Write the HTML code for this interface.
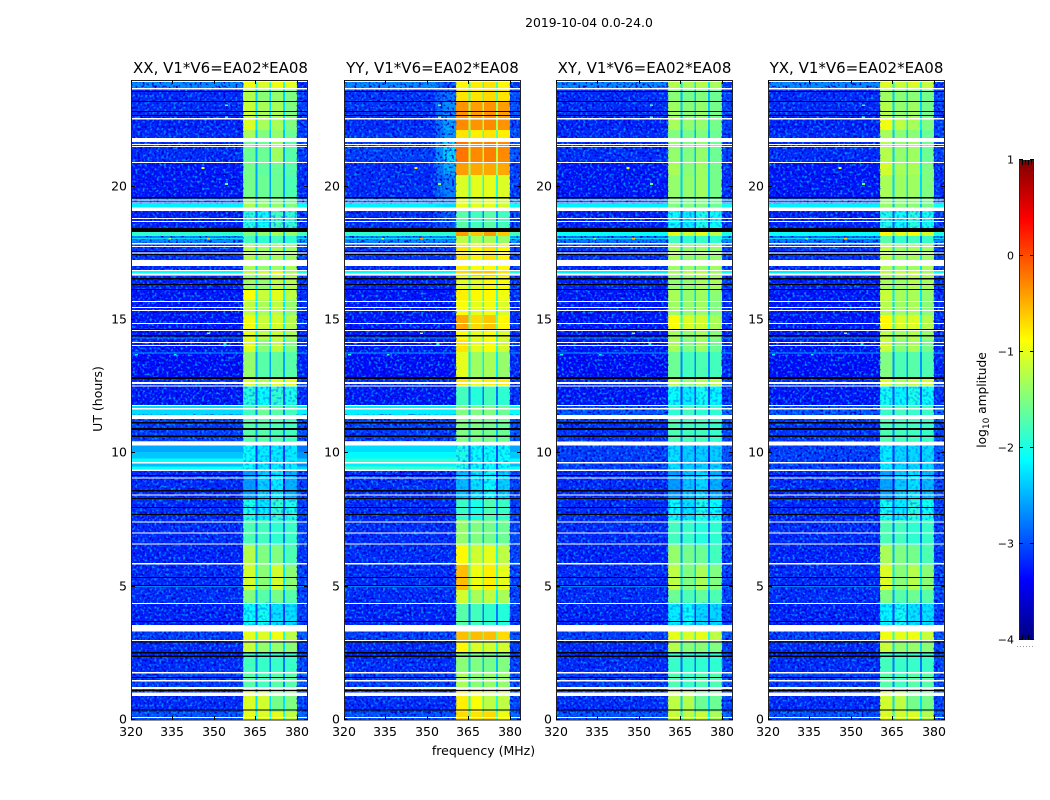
<!DOCTYPE html>
<html lang="en">
<head>
<meta charset="utf-8">
<title>2019-10-04 0.0-24.0</title>
<style>
html,body{margin:0;padding:0;background:#fff;}
svg{display:block;font-family:"DejaVu Sans","Liberation Sans",sans-serif;fill:#000;}
</style>
</head>
<body>
<svg id="chart" xmlns="http://www.w3.org/2000/svg" width="1050" height="800" viewBox="0 0 1050 800">
  <defs>
    <filter id="speckle-light" x="0" y="0" width="100%" height="100%" color-interpolation-filters="sRGB">
      <feTurbulence type="fractalNoise" baseFrequency="0.42" numOctaves="1" seed="7"/>
      <feColorMatrix type="matrix" values="0 0 0 0 0  0 0 0 0 0.55  0 0 0 0 1  5 0 0 0 -2.6"/>
    </filter>
    <filter id="speckle-dark" x="0" y="0" width="100%" height="100%" color-interpolation-filters="sRGB">
      <feTurbulence type="fractalNoise" baseFrequency="0.42" numOctaves="1" seed="23"/>
      <feColorMatrix type="matrix" values="0 0 0 0 0  0 0 0 0 0  0 0 0 0 0.8  5 0 0 0 -2.5"/>
    </filter>
    <filter id="speckle-band" x="0" y="0" width="100%" height="100%" color-interpolation-filters="sRGB">
      <feTurbulence type="fractalNoise" baseFrequency="0.38" numOctaves="1" seed="41"/>
      <feColorMatrix type="matrix" values="0 0 0 0 0  0 0 0 0 0.42  0 0 0 0 1  4 0 0 0 -1.9"/>
    </filter>
  </defs>
  <g id="panels"></g>
  <text x="589" y="27" font-size="12.4" text-anchor="middle">2019-10-04 0.0-24.0</text>
  <text x="220.500" y="73" font-size="15" text-anchor="middle">XX, V1*V6=EA02*EA08</text>
  <text x="432.500" y="73" font-size="15" text-anchor="middle">YY, V1*V6=EA02*EA08</text>
  <text x="644.500" y="73" font-size="15" text-anchor="middle">XY, V1*V6=EA02*EA08</text>
  <text x="856.500" y="73" font-size="15" text-anchor="middle">YX, V1*V6=EA02*EA08</text>
  <text x="0" y="0" font-size="12.5" text-anchor="middle" transform="translate(102,399) rotate(-90)">UT (hours)</text>
  <text x="483.500" y="755" font-size="12.5" text-anchor="middle">frequency (MHz)</text>
  <text x="0" y="0" font-size="12.2" text-anchor="middle" transform="translate(986,400) rotate(-90)">log<tspan font-size="9" dy="3">10</tspan><tspan dy="-3"> amplitude</tspan></text>
  <g id="colorbar"></g>
</svg>
<script>
// ---- data ----
const panelNames = ["xx", "yy", "xy", "yx"];
const xTickValues = [320, 335, 350, 365, 380];
const yTickValues = [0, 5, 10, 15, 20];
const colorbarTickValues = [1, 0, -1, -2, -3, -4];
const colorbarTickLabels = ["1", "0", "\u22121", "\u22122", "\u22123", "\u22124"];

// UT edges of the time segments (hours, top to bottom)
const segmentEdgesUT = [24.0,23.66,23.21,22.58,22.13,21.83,20.93,20.44,19.61,19.35,19.2,18.45,18.15,17.89,17.25,16.88,16.65,16.13,15.75,15.19,14.63,14.25,13.8,12.86,12.53,11.81,11.44,10.46,9.38,8.25,7.5,6.56,5.81,4.88,4.39,3.56,3.0,2.55,1.8,1.05,0.3,0];

// log10 amplitude per segment: [background, band 1, band 2, band 3, band 4]
const levelsXX = [
[-2.6,-0.95,-1.05,-0.95,-1.0],[-3.1,-1.25,-1.45,-1.4,-1.5],[-3.1,-1.15,-1.3,-1.3,-1.5],[-3.15,-1.05,-1.3,-1.3,-1.5],[-3.1,-1.3,-1.5,-1.4,-1.6],
[-3.1,-1.6,-1.6,-1.35,-1.7],[-3.2,-1.55,-1.65,-1.6,-1.7],[-3.2,-1.55,-1.6,-1.6,-1.75],[-2.8,-1.4,-1.5,-1.5,-1.6],[-2.2,-1.3,-1.4,-1.4,-1.5],
[-3.15,-1.95,-2.1,-1.8,-1.9],[-1.9,-1.5,-1.4,-1.3,-1.4],[-2.6,-1.8,-1.9,-1.8,-1.9],[-3.05,-1.25,-1.35,-1.3,-1.35],[-3.1,-1.3,-1.4,-1.35,-1.3],
[-2.1,-1.2,-1.1,-1.0,-1.3],[-3.15,-1.35,-1.4,-1.2,-1.25],[-3.2,-0.9,-1.15,-1.0,-1.2],[-3.2,-1.2,-1.3,-1.2,-1.4],[-3.2,-0.95,-1.15,-1.1,-1.25],[-3.2,-1.0,-1.2,-1.15,-1.3],[-3.2,-1.05,-1.45,-1.2,-1.5],
[-3.25,-1.4,-1.7,-1.65,-1.7],[-3.1,-1.05,-1.3,-1.0,-1.0],[-3.2,-1.95,-2.1,-1.9,-2.0],[-2.3,-1.8,-1.6,-1.7,-1.8],[-3.0,-1.7,-1.7,-1.75,-1.8],
[-2.4,-2.1,-2.2,-2.2,-2.2],[-3.1,-2.6,-2.35,-2.2,-2.5],[-3.1,-2.0,-2.2,-1.9,-2.0],[-3.1,-1.75,-1.8,-1.9,-1.85],[-3.15,-1.25,-1.5,-1.5,-1.75],
[-3.1,-1.1,-1.45,-1.1,-1.45],[-3.1,-1.5,-1.7,-1.55,-1.7],[-3.15,-2.1,-2.05,-2.25,-2.25],[-3.0,-1.0,-1.05,-0.95,-1.2],[-3.1,-1.15,-1.4,-1.4,-1.45],
[-3.1,-1.8,-1.85,-1.85,-1.85],[-3.0,-1.7,-1.8,-1.7,-1.7],[-3.1,-1.05,-1.1,-1.55,-1.5],[-2.9,-1.0,-1.05,-1.0,-1.2]];
const levelsYY = [
[-2.6,-0.85,-0.8,-0.75,-0.85],[-3.05,-0.75,-0.75,-0.7,-0.75],[-3.05,-0.35,-0.4,-0.35,-0.4],[-3.1,-0.3,-0.35,-0.3,-0.35],[-3.05,-0.75,-0.8,-0.75,-0.8],
[-3.0,-0.2,-0.3,-0.25,-0.3],[-3.1,-0.4,-0.45,-0.45,-0.45],[-3.1,-1.05,-1.0,-1.0,-1.05],[-2.7,-1.0,-1.1,-1.0,-1.1],[-2.2,-1.0,-1.0,-1.0,-1.1],
[-3.1,-1.7,-1.8,-1.7,-1.8],[-1.9,-0.4,-0.6,-0.4,-0.6],[-2.6,-1.2,-1.3,-1.3,-1.4],[-3.05,-0.75,-0.85,-0.75,-0.85],[-3.1,-0.8,-0.9,-0.85,-0.85],
[-2.1,-0.7,-0.6,-0.6,-0.75],[-3.15,-1.0,-1.0,-0.85,-0.9],[-3.2,-0.8,-0.85,-0.85,-0.95],[-3.2,-0.9,-1.0,-0.95,-1.05],[-3.2,-0.45,-0.7,-0.6,-0.85],[-3.2,-0.9,-1.0,-0.9,-1.05],[-3.2,-0.75,-1.0,-0.9,-1.1],
[-3.25,-1.0,-1.35,-1.3,-1.4],[-3.1,-0.75,-0.95,-0.8,-0.8],[-3.2,-1.8,-1.95,-1.8,-1.9],[-2.2,-1.5,-1.5,-1.5,-1.6],[-3.0,-1.5,-1.5,-1.55,-1.6],
[-2.15,-2.0,-2.1,-2.1,-2.1],[-3.1,-2.45,-2.25,-2.1,-2.35],[-3.1,-1.85,-2.0,-1.75,-1.85],[-3.1,-1.4,-1.5,-1.55,-1.6],[-3.1,-0.85,-1.1,-1.0,-1.2],
[-3.1,-0.55,-0.95,-0.8,-1.0],[-3.1,-1.1,-1.3,-1.2,-1.3],[-3.15,-1.7,-1.8,-1.9,-1.95],[-3.0,-0.55,-0.55,-0.55,-0.7],[-3.1,-0.85,-1.05,-1.1,-1.1],
[-3.1,-1.45,-1.5,-1.55,-1.5],[-3.0,-1.3,-1.45,-1.4,-1.4],[-3.1,-0.8,-0.9,-1.2,-1.2],[-2.9,-0.7,-0.75,-0.7,-0.95]];
const levelsXY = [
[-2.6,-1.25,-1.3,-1.25,-1.3],[-3.1,-1.45,-1.55,-1.5,-1.6],[-3.1,-1.35,-1.45,-1.4,-1.55],[-3.15,-1.3,-1.4,-1.4,-1.55],[-3.1,-1.5,-1.55,-1.5,-1.6],
[-3.1,-1.4,-1.5,-1.4,-1.6],[-3.2,-1.3,-1.45,-1.35,-1.55],[-3.2,-1.4,-1.4,-1.35,-1.55],[-2.8,-1.5,-1.55,-1.5,-1.6],[-2.2,-1.5,-1.5,-1.5,-1.6],
[-3.15,-2.1,-2.2,-2.0,-2.1],[-2.1,-1.0,-1.1,-1.0,-1.2],[-2.7,-1.8,-1.9,-1.85,-1.9],[-3.05,-1.3,-1.4,-1.35,-1.4],[-3.1,-1.35,-1.4,-1.4,-1.35],
[-2.2,-1.3,-1.2,-1.2,-1.35],[-3.15,-1.4,-1.4,-1.3,-1.3],[-3.2,-1.3,-1.4,-1.35,-1.45],[-3.2,-1.35,-1.4,-1.35,-1.5],[-3.2,-0.9,-1.05,-1.1,-1.3],[-3.2,-1.3,-1.4,-1.3,-1.45],[-3.2,-1.3,-1.5,-1.35,-1.6],
[-3.25,-1.6,-1.8,-1.75,-1.8],[-3.1,-1.2,-1.4,-1.25,-1.2],[-3.2,-2.1,-2.2,-2.05,-2.15],[-2.9,-1.9,-1.8,-1.9,-1.9],[-3.05,-1.75,-1.8,-1.8,-1.85],
[-3.0,-2.25,-2.35,-2.35,-2.35],[-3.1,-2.6,-2.4,-2.3,-2.5],[-3.1,-2.1,-2.25,-2.0,-2.1],[-3.1,-1.8,-1.85,-1.95,-1.9],[-3.15,-1.4,-1.55,-1.6,-1.8],
[-3.1,-1.2,-1.5,-1.3,-1.5],[-3.1,-1.6,-1.75,-1.65,-1.75],[-3.15,-2.2,-2.1,-2.3,-2.3],[-3.0,-1.0,-1.05,-1.0,-1.2],[-3.1,-1.25,-1.45,-1.45,-1.5],
[-3.1,-1.85,-1.9,-1.9,-1.9],[-3.0,-1.75,-1.85,-1.75,-1.75],[-3.1,-1.2,-1.25,-1.6,-1.6],[-2.9,-1.15,-1.2,-1.15,-1.3]];
const levelsYX = [
[-2.6,-1.05,-1.15,-1.05,-1.15],[-3.1,-1.35,-1.45,-1.45,-1.55],[-3.1,-1.25,-1.4,-1.35,-1.55],[-3.15,-0.95,-1.2,-1.3,-1.5],[-3.1,-1.3,-1.45,-1.45,-1.6],
[-3.1,-1.25,-1.4,-1.35,-1.6],[-3.2,-1.1,-1.3,-1.3,-1.5],[-3.2,-1.3,-1.35,-1.35,-1.5],[-2.8,-1.4,-1.45,-1.45,-1.55],[-2.2,-1.4,-1.45,-1.45,-1.55],
[-3.15,-2.0,-2.1,-1.95,-2.05],[-2.1,-0.85,-1.0,-0.9,-1.1],[-2.7,-1.7,-1.85,-1.8,-1.85],[-3.05,-1.2,-1.35,-1.3,-1.35],[-3.1,-1.25,-1.35,-1.35,-1.3],
[-2.2,-1.2,-1.15,-1.15,-1.3],[-3.15,-1.3,-1.35,-1.25,-1.3],[-3.2,-1.15,-1.3,-1.3,-1.4],[-3.2,-1.25,-1.35,-1.3,-1.45],[-3.2,-0.85,-1.05,-1.05,-1.25],[-3.2,-1.2,-1.3,-1.25,-1.4],[-3.2,-1.15,-1.45,-1.3,-1.55],
[-3.25,-1.5,-1.75,-1.7,-1.75],[-3.1,-1.05,-1.3,-1.15,-1.1],[-3.2,-2.05,-2.15,-2.0,-2.1],[-2.9,-1.85,-1.8,-1.85,-1.85],[-3.05,-1.75,-1.8,-1.8,-1.85],
[-3.0,-2.2,-2.3,-2.3,-2.3],[-3.1,-2.55,-2.35,-2.25,-2.45],[-3.1,-2.05,-2.2,-1.95,-2.05],[-3.1,-1.75,-1.8,-1.9,-1.85],[-3.15,-1.3,-1.5,-1.55,-1.75],
[-3.1,-1.05,-1.45,-1.25,-1.45],[-3.1,-1.5,-1.7,-1.6,-1.7],[-3.15,-2.15,-2.05,-2.25,-2.25],[-3.0,-0.95,-1.0,-0.95,-1.15],[-3.1,-1.15,-1.4,-1.4,-1.45],
[-3.1,-1.8,-1.85,-1.85,-1.85],[-3.0,-1.7,-1.8,-1.7,-1.7],[-3.1,-1.1,-1.2,-1.55,-1.55],[-2.9,-1.05,-1.1,-1.05,-1.25]];

// shoulder level just below the band (353-360.5 MHz), YY only, first segments
const shoulderYY = [-3.0,-2.8,-2.65,-2.55,-2.6,-2.3,-2.5,-2.75,-2.8,-2.3,-2.95];

// cyan interference stripes around UT 9.4-10.3: [UT start, UT end, log10 amplitude]
const stripesXX = [[10.29,10.05,-2.55],[10.05,9.8,-2.4],[9.8,9.68,-2.1],[9.62,9.5,-2.45],[9.5,9.39,-2.1]];
const stripesYY = [[10.29,10.05,-2.3],[10.05,9.8,-2.15],[9.8,9.68,-1.9],[9.62,9.5,-2.2],[9.5,9.39,-1.85]];

// thin faint horizontal interference rows [UT, log10 amplitude]
const faintRows = [[14.33,-2.65],[13.76,-2.55],[18.05,-2.3],[5.0,-2.75]];

// band edges in MHz
const bandStarts = [360.5, 365.7, 370.7, 375.7];
const bandEnds = [365.0, 370.0, 375.0, 380.0];

// flagged time ranges [UT start, UT end]: white = no data, black = zero amplitude
const whiteFlags = [[23.96,23.93],[23.7,23.64],[22.58,22.52],[21.83,21.68],[21.6,21.56],[21.53,21.49],[20.93,20.89],[19.52,19.48],[19.41,19.37],[19.22,19.09],[18.83,18.79],[18.71,18.68],[17.89,17.83],[17.78,17.74],[17.53,17.49],[17.25,17.03],[16.88,16.84],[16.74,16.69],[15.71,15.68],[15.49,15.45],[15.38,15.34],[14.89,14.85],[14.62,14.58],[14.18,14.14],[14.06,14.03],[12.68,12.6],[12.54,12.51],[11.81,11.78],[11.7,11.64],[11.44,11.29],[10.44,10.29],[9.68,9.62],[9.39,9.34],[9.09,9.06],[8.46,8.42],[7.44,7.41],[7.03,6.99],[6.62,6.58],[5.89,5.83],[4.39,4.35],[3.56,3.32],[3.0,2.96],[1.8,1.74],[1.5,1.44],[1.24,1.16],[1.03,0.9],[0.11,0.08]];
const blackFlags = [[23.59,23.55],[23.21,23.18],[22.84,22.8],[22.69,22.65],[19.61,19.56],[18.45,18.3],[17.59,17.55],[17.48,17.44],[16.58,16.52],[16.35,16.31],[16.16,16.13],[14.66,14.63],[14.44,14.38],[12.86,12.79],[11.18,11.12],[10.95,10.88],[10.67,10.61],[9.19,9.15],[8.63,8.57],[8.33,8.29],[7.99,7.95],[7.73,7.69],[5.36,5.33],[5.06,5.03],[3.71,3.68],[2.94,2.91],[2.55,2.49],[2.42,2.36],[1.61,1.58],[1.13,1.09],[0.39,0.36]];

// isolated interference cells [MHz, UT, log10 amplitude]
const rfiCells = [[354.5,23.05,-1.6],[354.5,22.6,-1.6],[354.5,20.1,-1.4],[346,20.7,-0.8],[348,18.05,-0.4],[334,18.05,-1.2],[348,14.5,-1.2],[354,14.1,-2.0],[322,13.7,-2.0],[336,13.7,-1.9]];

// ---- axis functions ----
const panelLefts = [131, 344, 556, 768];
const panelWidth = 177;
const plotTop = 80;
const plotHeight = 640;
const backgroundBias = -0.08;
const quietRightEdgeLevel = -3.15;
const allLevels = [levelsXX, levelsYY, levelsXY, levelsYX];
const NS = "http://www.w3.org/2000/svg";

function xScale(panel, mhz) { return panelLefts[panel] + (mhz - 320) / 64 * panelWidth; }
function yScale(ut) { return plotTop + (24 - ut) / 24 * plotHeight; }

function jet(level) {
  const t = Math.max(0, Math.min(1, (level + 4) / 5));
  function ch(v) { return Math.round(255 * Math.max(0, Math.min(1, v))); }
  const r = ch(Math.min(4 * t - 1.5, -4 * t + 4.5));
  const g = ch(Math.min(4 * t - 0.5, -4 * t + 3.5));
  const b = ch(Math.min(4 * t + 0.5, -4 * t + 2.5));
  return "rgb(" + r + "," + g + "," + b + ")";
}

function mk(parent, tag, attrs) {
  const el = document.createElementNS(NS, tag);
  for (const k in attrs) el.setAttribute(k, attrs[k]);
  parent.appendChild(el);
  return el;
}

function cell(group, panel, f0, f1, ut0, ut1, level) {
  const x0 = xScale(panel, f0), x1 = xScale(panel, f1);
  const y0 = yScale(ut0), y1 = yScale(ut1);
  const r = mk(group, "rect", {x: x0, y: y0, width: x1 - x0, height: y1 - y0, fill: jet(level), "shape-rendering": "crispEdges"});
  
  
}

function texture(group, panel, f0, f1, ut0, ut1) {
  for (const filterId of ["speckle-dark", "speckle-light"]) {
    const x0 = xScale(panel, f0), x1 = xScale(panel, f1);
    const y0 = yScale(ut0), y1 = yScale(ut1);
    const t = mk(group, "rect", {x: x0, y: y0, width: x1 - x0, height: y1 - y0, filter: "url(#" + filterId + ")"});
    
    
  }
}

function bandTexture(group, panel, f0, f1, ut0, ut1) {
  const x0 = xScale(panel, f0), x1 = xScale(panel, f1);
  const y0 = yScale(ut0), y1 = yScale(ut1);
  const t = mk(group, "rect", {x: x0, y: y0, width: x1 - x0, height: y1 - y0, filter: "url(#speckle-band)", opacity: 0.6});
  
  
}

function flagRow(group, panel, range, color, name) {
  const y0 = yScale(range[0]), y1 = yScale(range[1]);
  const r = mk(group, "rect", {x: panelLefts[panel], y: y0, width: panelWidth, height: Math.max(1, y1 - y0), fill: color, "shape-rendering": "crispEdges"});
  
  
}

function drawPanel(root, p) {
  const g = mk(root, "g", {});
  
  

  const levels = allLevels[p];
  for (let s = 0; s < levels.length; s++) {
    const row = levels[s];
    const u0 = segmentEdgesUT[s], u1 = segmentEdgesUT[s + 1];
    const bg = row[0] < -2.5 ? row[0] + backgroundBias : row[0];
    cell(g, p, 320, 384, u0, u1, bg);
    cell(g, p, 380, 384, u0, u1, s === 0 ? quietRightEdgeLevel : bg + 0.12);
    const mean = (row[1] + row[2] + row[3] + row[4]) / 4;
    cell(g, p, 360.5, 380, u0, u1, mean - 0.95);
    for (let b = 0; b < 4; b++) {
      cell(g, p, bandStarts[b], bandEnds[b], u0, u1, row[b + 1]);
    }
    if (p === 1 && s < shoulderYY.length) {
      cell(g, p, 353, 356, u0, u1, (shoulderYY[s] + row[0]) / 2);
      cell(g, p, 356, 360.5, u0, u1, shoulderYY[s]);
    }
    // only the quiet background and the faint band segments look noisy
    if (row[0] < -2.5) {
      texture(g, p, 320, 360.5, u0, u1);
      texture(g, p, 380, 384, u0, u1);
    }
    if (mean < -1.9) {
      bandTexture(g, p, 360.5, 380, u0, u1);
    }
  }

  const stripes = p === 0 ? stripesXX : (p === 1 ? stripesYY : []);
  for (const st of stripes) {
    cell(g, p, 320, 360.5, st[0], st[1], st[2]);
    cell(g, p, 380, 384, st[0], st[1], st[2] - 0.25);
  }

  for (const fr of faintRows) {
    cell(g, p, 320, 360.5, fr[0] + 0.02, fr[0] - 0.02, fr[1]);
    cell(g, p, 380, 384, fr[0] + 0.02, fr[0] - 0.02, fr[1]);
  }

  for (const c of rfiCells) {
    cell(g, p, c[0] - 0.5, c[0] + 0.5, c[1] + 0.03, c[1] - 0.03, c[2] + (p === 1 ? 0 : -0.2));
  }
  for (const f of whiteFlags) flagRow(g, p, f, "#ffffff", "flagged-gap-row");
  for (const f of blackFlags) flagRow(g, p, f, "#000000", "zero-amplitude-row");

  const frame = mk(g, "rect", {x: panelLefts[p] + 0.5, y: plotTop + 0.5, width: panelWidth - 1, height: plotHeight - 0.5, fill: "none", stroke: "#222", "stroke-width": 1, "shape-rendering": "crispEdges"});
  
  

  for (const v of xTickValues) {
    const x = Math.round(xScale(p, v)) + 0.5;
    for (const seg of [[plotTop, plotTop + 4], [plotTop + plotHeight - 4, plotTop + plotHeight]]) {
      const t = mk(g, "line", {x1: x, x2: x, y1: seg[0], y2: seg[1], stroke: "#000", "stroke-width": 1, "shape-rendering": "crispEdges"});
      
      
    }
    const label = mk(g, "text", {x: x - 0.5, y: 736, "font-size": 12.5, "text-anchor": "middle"});
    label.textContent = String(v);
    
    
  }
  for (const v of yTickValues) {
    const y = Math.round(yScale(v)) - 0.5;
    const left = panelLefts[p];
    for (const seg of [[left, left + 4], [left + panelWidth - 4, left + panelWidth]]) {
      const t = mk(g, "line", {x1: seg[0], x2: seg[1], y1: y, y2: y, stroke: "#000", "stroke-width": 1, "shape-rendering": "crispEdges"});
      
      
    }
    const label = mk(g, "text", {x: left - 4, y: y + 4, "font-size": 12.5, "text-anchor": "end"});
    label.textContent = String(v);
    
    
  }
}

function cbarY(level) { return 160 + (1 - level) / 5 * 480; }

function drawColorbar(root) {
  const left = 1019, width = 15;
  for (let py = 160; py < 640; py += 2) {
    const level = 1 - (py + 1 - 160) / 480 * 5;
    const r = mk(root, "rect", {x: left, y: py, width: width, height: 2, fill: jet(level), "shape-rendering": "crispEdges"});
    
    
  }
  const frame = mk(root, "rect", {x: left + 0.5, y: 160.5, width: width - 1, height: 479, fill: "none", stroke: "#222", "stroke-width": 1, "shape-rendering": "crispEdges"});
  
  

  colorbarTickValues.forEach(function (v, i) {
    const y = Math.round(cbarY(v)) - 0.5;
    for (const seg of [[left, left + 4], [left + width - 4, left + width]]) {
      const t = mk(root, "line", {x1: seg[0], x2: seg[1], y1: y, y2: y, stroke: "#000", "stroke-width": 1, "shape-rendering": "crispEdges"});
      
      
    }
    const label = mk(root, "text", {x: 1014, y: y + 4, "font-size": 11, "text-anchor": "end"});
    label.textContent = colorbarTickLabels[i];
    
    
  });

  for (const x of [1022, 1025, 1028, 1031]) {
    for (const seg of [[160, 165], [635, 640]]) {
      const t = mk(root, "line", {x1: x + 0.5, x2: x + 0.5, y1: seg[0], y2: seg[1], stroke: "#000", "stroke-width": 1, "shape-rendering": "crispEdges"});
      
      
    }
  }
  const dots = mk(root, "line", {x1: 1017, x2: 1035, y1: 646.500, y2: 646.500, stroke: "#999", "stroke-width": 1, "stroke-dasharray": "1 2", "shape-rendering": "crispEdges"});
  
  
}

const panelsRoot = document.getElementById("panels");
for (let p = 0; p < panelLefts.length; p++) drawPanel(panelsRoot, p);
drawColorbar(document.getElementById("colorbar"));
</script>
</body>
</html>
